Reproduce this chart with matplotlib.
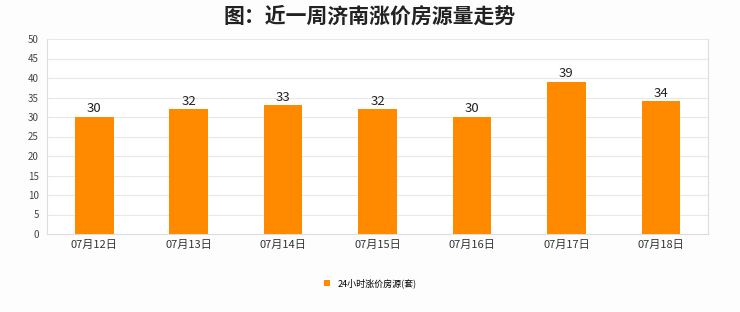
import matplotlib.pyplot as plt
from matplotlib.patches import Patch

plt.rcParams['font.family'] = ['Noto Sans CJK SC', 'DejaVu Sans']

dates = ["07月12日", "07月13日", "07月14日", "07月15日", "07月16日", "07月17日", "07月18日"]
counts = [30, 32, 33, 32, 30, 39, 34]
series_name = "24小时涨价房源(套)"
bar_color = "#FF8A00"

fig = plt.figure(figsize=(7.4, 3.12), dpi=100)
fig.patch.set_facecolor("#fdfdfd")
ax = fig.add_axes([0.0635, 0.25, 0.8935, 0.625])
ax.set_facecolor("white")

x = range(len(dates))
bars = ax.bar(x, counts, width=0.41, color=bar_color, zorder=3)
for xi, v in zip(x, counts):
    ax.text(xi, v + 0.4, str(v), ha="center", va="bottom", fontsize=9.5, color="#222222")

ax.set_xlim(-0.5, len(dates) - 0.5)
ax.set_ylim(0, 50)
ax.set_yticks(range(0, 51, 5))
ax.set_xticks(list(x))
ax.set_xticklabels(dates, fontsize=8, color="#333333")
ax.tick_params(axis="y", labelsize=7, colors="#444444", length=0, pad=6)
ax.tick_params(axis="x", length=0, pad=4)
ax.grid(axis="y", color="#e8e8e8", linewidth=0.8, zorder=0)
ax.spines["top"].set_visible(False)
for side in ["left", "right", "bottom"]:
    ax.spines[side].set_color("#dddddd")
    ax.spines[side].set_linewidth(0.8)

fig.text(0.5, 0.948, "图：近一周济南涨价房源量走势", ha="center", va="center",
         fontsize=15, fontweight="semibold", color="#222222")

handle = Patch(facecolor=bar_color, edgecolor="none")
fig.legend([handle], [series_name], loc="center", bbox_to_anchor=(0.5, 0.093),
           frameon=False, fontsize=6.5, handlelength=0.7, handleheight=0.7,
           handletextpad=0.8)

fig.savefig("out.png", dpi=100, facecolor=fig.get_facecolor())
